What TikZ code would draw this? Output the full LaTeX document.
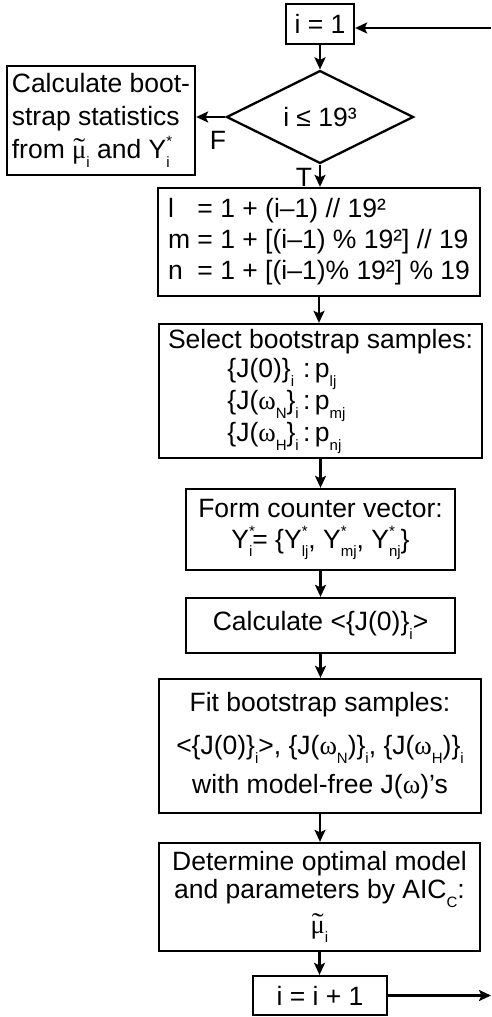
\documentclass[tikz,border=0pt]{standalone}
\usepackage{fontspec}
\usepackage{graphicx}
\setmainfont{Liberation Sans}
\newfontfamily\grk{Liberation Serif}
\usetikzlibrary{shapes.geometric,arrows.meta}
\newcommand\mysub[1]{\raisebox{-0.32em}{\fontsize{15}{15}\selectfont #1}}
\newcommand\mysup[1]{\raisebox{0.45em}{\fontsize{15}{15}\selectfont #1}}
\newcommand\subsup[2]{\rlap{\mysup{#2}}\mysub{#1}}
\newcommand\om{{\grk ω}}
\newcommand\tmu{{\grk\ooalign{μ\cr\hidewidth\raisebox{0.08em}{\scalebox{1.35}[1]{˜}}\hidewidth\cr}}}
\begin{document}
\begin{tikzpicture}[x=1pt,y=-1pt,
  box/.style={draw, line width=2.3pt, inner sep=0pt, align=center, font=\fontsize{26.5}{31}\selectfont},
  arr/.style={line width=2.3pt, -{Stealth[length=12pt,width=11pt,inset=2.5pt]}},
  lab/.style={font=\fontsize{26.5}{31}\selectfont, inner sep=0pt}]
\useasboundingbox (0,0) rectangle (492,1017);

\node[box, minimum width=68pt, minimum height=40pt] (n1) at (320,24) {i = 1};
\node[draw, diamond, line width=2.3pt, minimum width=187pt, minimum height=92pt, inner sep=0pt,
      font=\fontsize{26.5}{31}\selectfont] (dec) at (320,117) {i ≤ 19³};
\node[box, minimum width=188pt, minimum height=109pt, align=left,
      font=\fontsize{26.5}{33}\selectfont] (stat) at (101,120.5)
  {Calculate boot-\\strap statistics\\from \tmu\mysub{i} and Y\subsup{i}{*}};
\node[box, minimum width=322pt, minimum height=108pt, align=left] (b3) at (319,242)
  {\makebox[1.11em][l]{l}= 1 + (i–1) // 19²\\
   m = 1 + [(i–1) \% 19²] // 19\\
   \makebox[1.11em][l]{n}= 1 + [(i–1)\% 19²] \% 19};
\node[box, minimum width=323pt, minimum height=134pt, font=\fontsize{26.5}{29}\selectfont] (b4) at (320.5,391)
  {Select bootstrap samples:\\[3pt]
   \begin{tabular}{@{}l@{\,:\,}l@{}}
   \{J(0)\}\mysub{i} & p\mysub{lj}\\
   \{J(\om\mysub{N}\}\mysub{i} & p\mysub{mj}\\
   \{J(\om\mysub{H}\}\mysub{i} & p\mysub{nj}
   \end{tabular}\hspace*{68pt}};
\node[box, minimum width=269pt, minimum height=81pt] (b5) at (320.5,529.5)
  {Form counter vector:\\
   Y\subsup{i}{*}= \{Y\subsup{lj}{*}, Y\subsup{mj}{*}, Y\subsup{nj}{*}\}};
\node[box, minimum width=269pt, minimum height=55pt] (b6) at (320.5,625.5)
  {Calculate <\{J(0)\}\mysub{i}>};
\node[box, minimum width=322pt, minimum height=134pt] (b7) at (320,746)
  {Fit bootstrap samples:\\[12pt]
   <\{J(0)\}\mysub{i}>, \{J(\om\mysub{N})\}\mysub{i}, \{J(\om\mysub{H})\}\mysub{i}\\[8pt]
   with model-free J(\om)’s};
\node[box, minimum width=321pt, minimum height=108pt] (b8) at (319.5,897)
  {Determine optimal model\\[-3pt]
   and parameters by AIC\mysub{C}:\\[4pt]
   \tmu\mysub{i}};
\node[box, minimum width=134pt, minimum height=39pt] (b9) at (320,995.5) {i = i + 1};

\node[lab] (F) at (218,140) {F};
\node[lab] (T) at (304,177) {T};

\coordinate (rt) at (491,28);
\coordinate (rb) at (491,996);

\draw[arr] (rt) -- (rt -| n1.east);
\draw[arr] (n1.south) -- (n1.south |- dec.north);
\draw[arr] (dec.west) -- (dec.west -| stat.east);
\draw[arr] (dec.south) -- (dec.south |- b3.north);
\draw[arr] (b3.south) -- (b3.south |- b4.north);
\draw[arr] (b4.south) -- (b4.south |- b5.north);
\draw[arr] (b5.south) -- (b5.south |- b6.north);
\draw[arr] (b6.south) -- (b6.south |- b7.north);
\draw[arr] (b7.south) -- (b7.south |- b8.north);
\draw[arr] (b8.south) -- (b8.south |- b9.north);
\draw[arr] (b9.east) -- (b9.east -| rb);
\end{tikzpicture}
\end{document}
